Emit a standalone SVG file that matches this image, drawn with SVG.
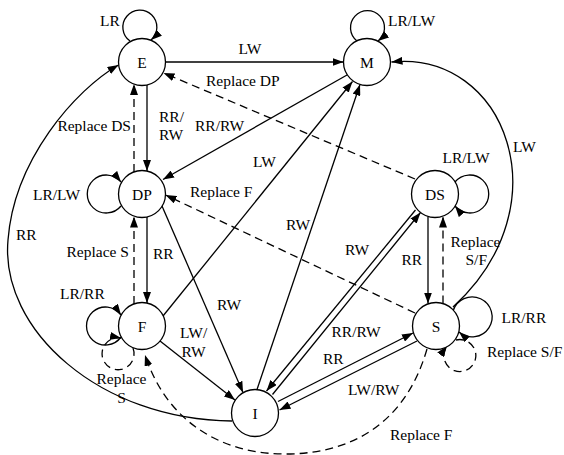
<svg xmlns="http://www.w3.org/2000/svg" width="564" height="455" viewBox="0 0 564 455">
<defs>
<style>
.e{fill:none;stroke:#000;stroke-width:1.3}
.d{fill:none;stroke:#000;stroke-width:1.3;stroke-dasharray:8 5}
.n{fill:#fff;stroke:#000;stroke-width:1.3}
text{font-family:"Liberation Serif","Times New Roman",serif;font-size:15.5px;fill:#000}
.c{text-anchor:middle}
</style>
<marker id="ah" viewBox="0 0 11 8" refX="11" refY="4" markerWidth="11" markerHeight="8" markerUnits="userSpaceOnUse" orient="auto"><path d="M0,0 L11,4 L0,8 z" fill="#000"/></marker>
</defs>
<rect width="564" height="455" fill="#fff"/>
<g id="connectors">
<path class="e" d="M130,41 A17 17 0 1 1 151,40" marker-end="url(#ah)"/>
<path class="e" d="M357,41 A17 17 0 1 1 378,41" marker-end="url(#ah)"/>
<path class="e" d="M121,206 A19 19 0 1 1 121,182" marker-end="url(#ah)"/>
<path class="e" d="M455,182 A19 19 0 1 1 455,206" marker-end="url(#ah)"/>
<path class="e" d="M121,337 A19 19 0 1 1 121,315" marker-end="url(#ah)"/>
<path class="d" d="M133,348 A16 16 0 1 1 121,338" marker-end="url(#ah)"/>
<path class="e" d="M453,311 A20 20 0 1 1 459,332" marker-end="url(#ah)"/>
<path class="d" d="M456,340 A16 16 0 1 1 447,346" marker-end="url(#ah)"/>
<path class="e" d="M165.5,62 L343.5,62" marker-end="url(#ah)"/>
<path class="d" d="M415,179 L163.5,73" marker-end="url(#ah)"/>
<path class="e" d="M147,85 L147,171" marker-end="url(#ah)"/>
<path class="d" d="M134,172 L134,84" marker-end="url(#ah)"/>
<path class="e" d="M347,75 L163,179.5" marker-end="url(#ah)"/>
<path class="d" d="M415,313 L165.5,195" marker-end="url(#ah)"/>
<path class="d" d="M134,304 L134,216.5" marker-end="url(#ah)"/>
<path class="e" d="M147,217 L147,303" marker-end="url(#ah)"/>
<path class="e" d="M162,206 L243,392.5" marker-end="url(#ah)"/>
<path class="e" d="M163,316 L352.5,81.5" marker-end="url(#ah)"/>
<path class="e" d="M257,389.5 L360,84.5" marker-end="url(#ah)"/>
<path class="e" d="M160,341 L235,400" marker-end="url(#ah)"/>
<path class="e" d="M428,216.5 L428,303.5" marker-end="url(#ah)"/>
<path class="d" d="M443,303.5 L443,216.5" marker-end="url(#ah)"/>
<path class="e" d="M415.5,210 L266.5,391" marker-end="url(#ah)"/>
<path class="e" d="M272.5,394.5 L420.5,212.5" marker-end="url(#ah)"/>
<path class="e" d="M278,401.5 L413,333" marker-end="url(#ah)"/>
<path class="e" d="M417,341 L279.5,410" marker-end="url(#ah)"/>
<path class="e" d="M232,421 C100,420 0,330 8,240 C14,160 75,90 118.5,65" marker-end="url(#ah)"/>
<path class="e" d="M453,307 C565,205 505,50 391.5,62" marker-end="url(#ah)"/>
<path class="d" d="M427,349 C405,425 350,454 285,454 C225,454 168,425 145,355" marker-end="url(#ah)"/>
</g>
<g id="labels">
<text x="100" y="26">LR</text>
<text x="250" y="53.5" class="c">LW</text>
<text x="206" y="85.5">Replace DP</text>
<text x="388" y="26">LR/LW</text>
<text x="159" y="121.5">RR/</text>
<text x="159" y="140">RW</text>
<text x="131" y="130.5" text-anchor="end">Replace DS</text>
<text x="195" y="130.5">RR/RW</text>
<text x="33" y="200">LR/LW</text>
<text x="190" y="197">Replace F</text>
<text x="253" y="166.5">LW</text>
<text x="66.5" y="256.5">Replace S</text>
<text x="153" y="259">RR</text>
<text x="217" y="310">RW</text>
<text x="286" y="230">RW</text>
<text x="60" y="299">LR/RR</text>
<text x="180" y="338">LW/</text>
<text x="181.5" y="356.5">RW</text>
<text x="96.5" y="384">Replace</text>
<text x="121.5" y="403" class="c">S</text>
<text x="16" y="240">RR</text>
<text x="345" y="255">RW</text>
<text x="401.5" y="265">RR</text>
<text x="450.5" y="246.5">Replace</text>
<text x="465.5" y="265">S/F</text>
<text x="442.5" y="163">LR/LW</text>
<text x="513" y="151.5">LW</text>
<text x="331.5" y="336.5">RR/RW</text>
<text x="323" y="364">RR</text>
<text x="348" y="395">LW/RW</text>
<text x="501.5" y="323">LR/RR</text>
<text x="487" y="356.5">Replace S/F</text>
<text x="390" y="440">Replace F</text>
</g>
<g id="node-E"><circle class="n" cx="142" cy="62" r="23.5"/><text x="142" y="67.5" class="c">E</text></g>
<g id="node-M"><circle class="n" cx="367" cy="62" r="23.5"/><text x="367" y="67.5" class="c">M</text></g>
<g id="node-DP"><circle class="n" cx="142" cy="194" r="23.5"/><text x="142" y="199.5" class="c">DP</text></g>
<g id="node-DS"><circle class="n" cx="435" cy="194" r="23.5"/><text x="435" y="199.5" class="c">DS</text></g>
<g id="node-F"><circle class="n" cx="142" cy="326" r="23.5"/><text x="142" y="331.5" class="c">F</text></g>
<g id="node-S"><circle class="n" cx="436" cy="326" r="23.5"/><text x="436" y="331.5" class="c">S</text></g>
<g id="node-I"><circle class="n" cx="255" cy="413" r="23.5"/><text x="255" y="418.5" class="c">I</text></g>
</svg>
